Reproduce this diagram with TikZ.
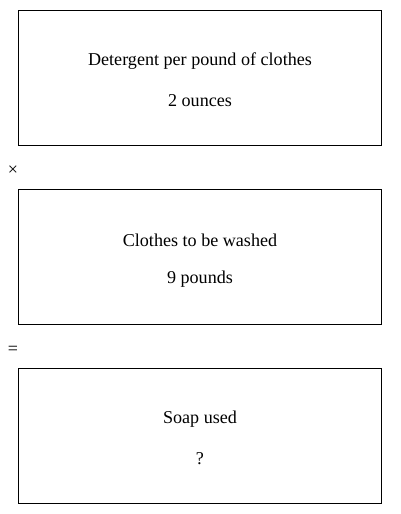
\documentclass[tikz,border=0pt]{standalone}
\usepackage{fontspec}
\setmainfont{Liberation Serif}
\begin{document}
\begin{tikzpicture}[x=1pt,y=-1pt,
  box/.style={draw=black,line width=0.9pt,minimum width=363pt,minimum height=135pt,inner sep=0pt},
  lbl/.style={font=\fontsize{18.1}{21}\selectfont,inner sep=0pt,anchor=center},
  op/.style={font=\fontsize{18}{20}\selectfont,inner sep=0pt,anchor=center}]
\useasboundingbox (0,0) rectangle (400,514);
\node[box] (b1) at (199.5,77.5) {};
\node[box] (b2) at (199.5,256.5) {};
\node[box] (b3) at (199.5,435.5) {};
\node[lbl] (t1a) at (200,61.5) {Detergent per pound of clothes};
\node[lbl] (t1b) at (200,100.5) {2 ounces};
\node[lbl] (t2a) at (200,240.5) {Clothes to be washed};
\node[lbl] (t2b) at (200,279.5) {9 pounds};
\node[lbl] (t3a) at (200,419.5) {Soap used};
\node[lbl] (t3b) at (200,458.5) {?};
\node[op] (times) at (13,171) {×};
\node[op] (eq) at (13,350) {=};
\end{tikzpicture}
\end{document}
